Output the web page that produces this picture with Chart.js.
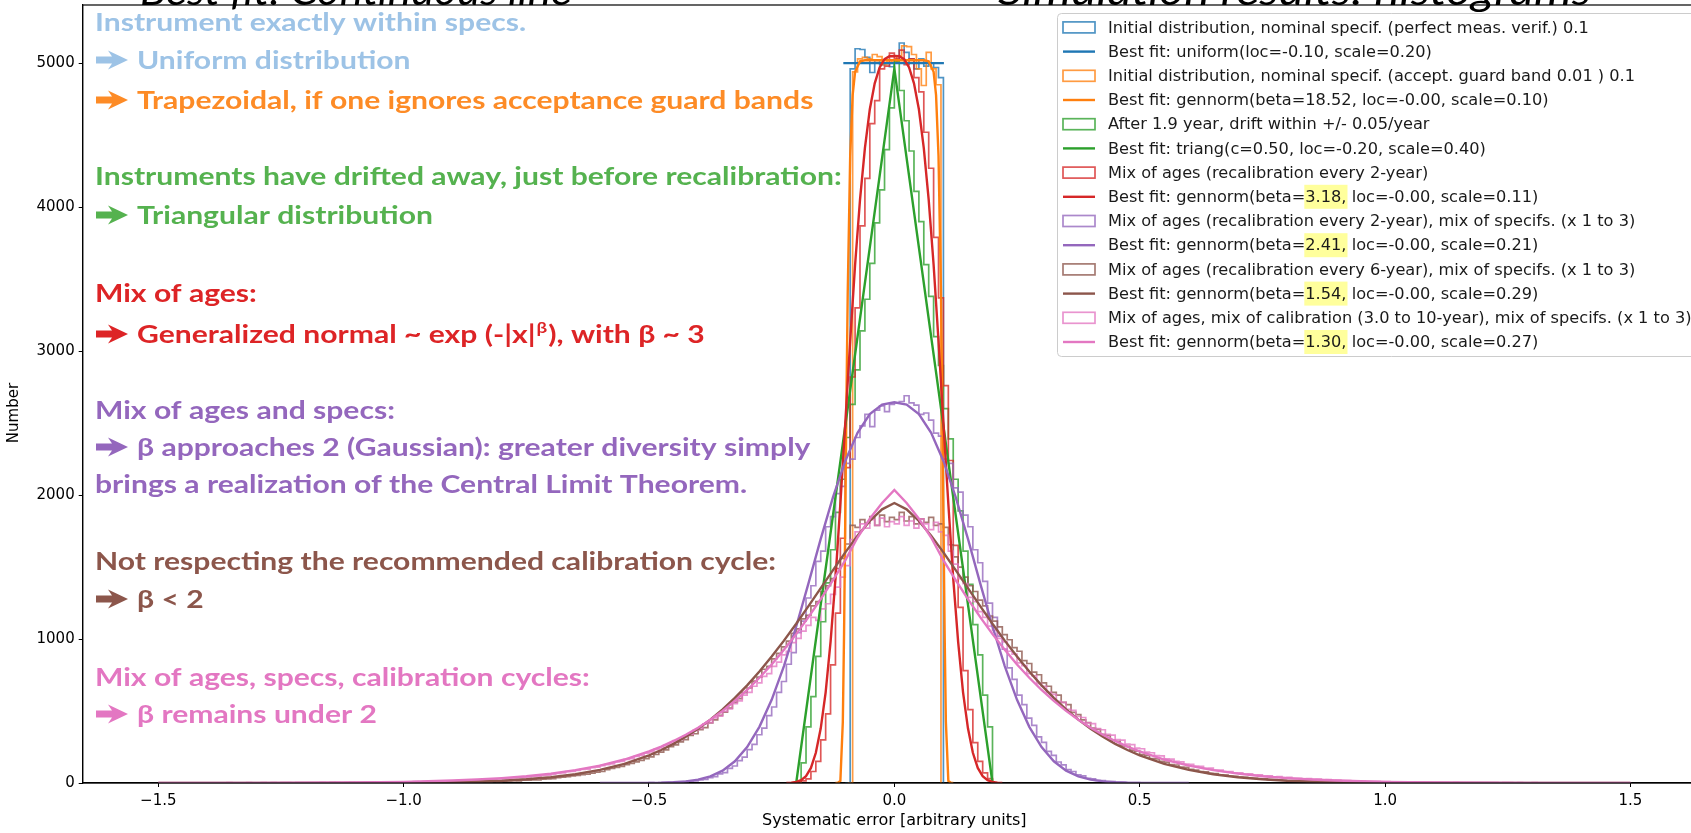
<!DOCTYPE html>
<html>
<head>
<meta charset="utf-8">
<script src="https://cdn.jsdelivr.net/npm/chart.js@4.4.1/dist/chart.umd.min.js"></script>
<style>
html, body { margin: 0; padding: 0; overflow: hidden; background: #fff; }
</style>
</head>
<body>
<canvas id="histChart" width="1720" height="833"></canvas>
<script>
// histogram counts, bin width 0.01, read left to right from the first bin edge
const binWidth = 0.01

const blueStart = -0.10
const blueHist = [4960, 5100, 5095, 5040, 4935, 5020, 4990, 5000, 4975, 5020,
    5140, 5075, 5030, 4960, 5030, 4980, 5000, 4970, 4900, 4840]

const orangeStart = -0.095
const orangeHist = [4940, 5030, 5040, 5030, 5060, 5045, 4990, 5020, 5000, 5050,
    5120, 5115, 5060, 4960, 4845, 5075, 4960, 4850, 4840]

const greenStart = -0.20
const greenHist = [140, 390, 600, 880, 1120, 1390, 1620, 1880, 2110, 2400,
    2630, 2870, 3140, 3360, 3610, 3890, 4120, 4400, 4690, 5010,
    4810, 4600, 4390, 4110, 3900, 3600, 3380, 3100, 2900, 2600,
    2390, 2110, 1890, 1610, 1380, 1100, 890, 610, 390, 130]

const redStart = -0.20
const redHist = [15, 28, 80, 150, 300, 480, 820, 1180, 1700, 2190,
    2820, 3300, 3870, 4200, 4580, 4740, 4960, 4980, 5070, 5030,
    5090, 4990, 5030, 4900, 4800, 4520, 4270, 3790, 3370, 2760,
    2240, 1650, 1220, 780, 510, 280, 150, 70, 30, 10]

const purpleStart = -0.55
const purpleHist = [0, 0, 1, 0, 2, 1, 3, 2, 4, 6,
    5, 9, 12, 14, 22, 25, 38, 44, 63, 72,
    101, 118, 156, 180, 232, 268, 335, 381, 468, 528,
    630, 705, 825, 905, 1045, 1125, 1285, 1370, 1540, 1610,
    1780, 1850, 2010, 2060, 2220, 2250, 2400, 2480, 2560, 2475,
    2590, 2620, 2580, 2630, 2640,
    2650, 2690, 2640, 2625, 2560, 2570, 2520, 2430, 2410, 2250,
    2220, 2050, 2020, 1860, 1780, 1620, 1530, 1400, 1250, 1150,
    1020, 930, 800, 720, 610, 545, 450, 400, 320, 282,
    220, 192, 146, 126, 93, 80, 57, 49, 33, 29,
    18, 16, 10, 9, 5, 5, 3, 2, 2, 1,
    1, 0, 1, 0, 0]

const brownStart = -1.50
const brownHist = [0, 0, 0, 0, 0, 0, 0, 1, 0, 0, 0, 0, 0, 1, 0, 0, 0, 0, 1, 0,
    0, 1, 0, 0, 1, 0, 1, 0, 0, 1, 0, 1, 1, 0, 2, 1, 0, 1, 2, 1,
    1, 2, 1, 3, 1, 2, 2, 1, 3, 2,
    3, 2, 4, 3, 2, 4, 5, 3, 4, 6,
    5, 7, 6, 8, 7, 9, 8, 11, 10, 13,
    14, 16, 15, 19, 20, 22, 21, 26, 28, 31,
    38, 40, 44, 50, 52, 58, 61, 68, 75, 80,
    92, 102, 108, 116, 128, 136, 147, 157, 170, 181,
    198, 214, 230, 252, 265, 285, 301, 330, 342, 370,
    385, 418, 438, 470, 492, 520, 560, 586, 628, 660,
    708, 735, 790, 810, 862, 900, 945, 985, 1040, 1070,
    1140, 1165, 1230, 1260, 1330, 1370, 1420, 1490, 1560, 1660,
    1790, 1775, 1830, 1805, 1850, 1790, 1860, 1815, 1845, 1830,
    1880, 1820, 1850, 1800, 1835, 1810, 1845, 1790, 1800, 1775,
    1655, 1570, 1500, 1430, 1370, 1330, 1270, 1230, 1160, 1125,
    1085, 1030, 995, 940, 915, 850, 830, 770, 752, 695,
    672, 630, 610, 560, 545, 490, 475, 438, 420, 382,
    372, 338, 330, 298, 290, 258, 255, 228, 222, 198,
    192, 170, 168, 150, 145, 128, 125, 110, 108, 95,
    90, 80, 78, 67, 66, 57, 55, 48, 46, 41,
    40, 34, 33, 28, 28, 24, 23, 20, 19, 16,
    16, 13, 14, 11, 11, 9, 10, 8, 8, 7,
    6, 6, 5, 4, 5, 3, 4, 3, 3, 2,
    2, 3, 1, 2, 2, 1, 1, 2, 1, 0, 1, 1, 0, 1, 1, 0, 0, 1, 0, 1,
    0, 0, 1, 0, 0, 0, 1, 0, 0, 0, 0, 1, 0, 0, 0, 0, 0, 0, 1, 0,
    0, 0, 0, 0, 0, 0, 0, 0, 0, 0]

const pinkStart = -1.50
const pinkHist = [0, 1, 0, 0, 1, 0, 1, 0, 1, 0, 1, 1, 0, 2, 1, 1, 0, 2, 1, 1,
    2, 1, 2, 1, 3, 2, 1, 3, 2, 2, 3, 2, 4, 3, 3, 4, 2, 4, 3, 5,
    4, 5, 4, 6, 5, 5, 7, 6, 7, 8,
    7, 9, 8, 10, 9, 11, 12, 11, 13, 14,
    16, 18, 17, 20, 21, 22, 25, 24, 28, 31,
    33, 35, 38, 37, 42, 45, 48, 52, 55, 62,
    66, 71, 79, 80, 88, 95, 97, 106, 110, 120,
    128, 133, 146, 150, 164, 170, 185, 192, 207, 216,
    234, 243, 262, 270, 294, 303, 326, 340, 365, 380,
    410, 420, 452, 465, 498, 515, 552, 570, 610, 630,
    672, 695, 740, 760, 810, 840, 890, 915, 975, 1005,
    1055, 1095, 1150, 1130, 1210, 1245, 1310, 1360, 1430, 1510,
    1690, 1745, 1800, 1770, 1830, 1790, 1840, 1780, 1815, 1800,
    1850, 1790, 1820, 1770, 1835, 1800, 1760, 1810, 1745, 1720,
    1610, 1520, 1420, 1385, 1290, 1260, 1190, 1150, 1090, 1060,
    1005, 980, 915, 895, 835, 815, 760, 745, 690, 672,
    630, 615, 568, 560, 512, 505, 462, 455, 418, 412,
    378, 370, 338, 333, 302, 298, 270, 266, 242, 238,
    215, 210, 190, 188, 168, 166, 150, 147, 132, 130,
    117, 116, 102, 103, 90, 90, 80, 79, 70, 70,
    62, 64, 55, 56, 48, 50, 43, 44, 37, 39,
    33, 33, 29, 30, 25, 27, 22, 23, 19, 20,
    17, 16, 15, 14, 13, 12, 11, 11, 9, 10,
    8, 8, 7, 6, 7, 5, 6, 5, 5, 4, 4, 5, 3, 4, 3, 3, 2, 3, 2, 3,
    2, 2, 1, 2, 2, 1, 2, 1, 1, 2, 1, 1, 0, 1, 1, 1, 0, 1, 0, 1,
    1, 0, 1, 0, 0, 1, 0, 0, 1, 0]

// fitted curves
const uniformFitX = [-0.104, 0.101]
const uniformFit = [5000, 5000]

const orangeFitX = [-0.12, -0.115, -0.11, -0.105, -0.1025, -0.1, -0.0975, -0.095, -0.09, -0.085, -0.08, -0.07, -0.06, 0,
    0.06, 0.07, 0.08, 0.085, 0.09, 0.095, 0.0975, 0.1, 0.1025, 0.105, 0.11, 0.115, 0.12]
const orangeFit = [0, 2, 15, 425, 1034, 1847, 2685, 3410, 4355, 4778, 4940, 5013, 5020, 5020,
    5020, 5013, 4940, 4778, 4355, 3410, 2685, 1847, 1034, 425, 15, 2, 0]

const triangFitX = [-0.2, 0, 0.2]
const triangFit = [0, 4960, 0]

const redFitX = [-0.22, -0.21, -0.2, -0.19, -0.18, -0.17, -0.16, -0.15, -0.14, -0.13, -0.12, -0.11, -0.1,
    -0.09, -0.08, -0.07, -0.06, -0.05, -0.04, -0.03, -0.02, -0.01, 0,
    0.01, 0.02, 0.03, 0.04, 0.05, 0.06, 0.07, 0.08, 0.09, 0.1, 0.11,
    0.12, 0.13, 0.14, 0.15, 0.16, 0.17, 0.18, 0.19, 0.2, 0.21, 0.22]
const redFit = [1, 2, 7, 20, 48, 105, 210, 380, 630, 980, 1420, 1940, 2500,
    3070, 3600, 4050, 4410, 4680, 4860, 4970, 5028, 5048, 5050,
    5048, 5028, 4970, 4860, 4680, 4410, 4050, 3600, 3070, 2500, 1940,
    1420, 980, 630, 380, 210, 105, 48, 20, 7, 2, 1]

const purpleFitX = [-0.6, -0.575, -0.55, -0.525, -0.5, -0.475, -0.45, -0.425, -0.4, -0.375, -0.35, -0.325,
    -0.3, -0.275, -0.25, -0.225, -0.2, -0.175, -0.15, -0.125, -0.1, -0.075, -0.05, -0.025, 0,
    0.025, 0.05, 0.075, 0.1, 0.125, 0.15, 0.175, 0.2, 0.225, 0.25, 0.275, 0.3,
    0.325, 0.35, 0.375, 0.4, 0.425, 0.45, 0.475, 0.5, 0.525, 0.55, 0.575, 0.6]
const purpleFit = [0, 0, 0, 0, 1, 2, 5, 11, 23, 46, 86, 151,
    249, 390, 578, 812, 1087, 1387, 1696, 1986, 2237, 2433, 2563, 2629, 2645,
    2629, 2563, 2433, 2237, 1986, 1696, 1387, 1087, 812, 578, 390, 249,
    151, 86, 46, 23, 11, 5, 2, 1, 0, 0, 0, 0]

const wideFitX = [-1.5, -1.4, -1.3, -1.2, -1.1, -1.0, -0.95, -0.9, -0.85, -0.8, -0.75, -0.7, -0.65, -0.6,
    -0.55, -0.5, -0.475, -0.45, -0.425, -0.4, -0.375, -0.35, -0.325, -0.3, -0.275, -0.25, -0.225,
    -0.2, -0.175, -0.15, -0.125, -0.1, -0.075, -0.05, -0.025, 0,
    0.025, 0.05, 0.075, 0.1, 0.125, 0.15, 0.175, 0.2, 0.225, 0.25, 0.275, 0.3, 0.325, 0.35,
    0.375, 0.4, 0.425, 0.45, 0.475, 0.5, 0.55, 0.6, 0.65, 0.7, 0.75, 0.8, 0.85, 0.9, 0.95,
    1.0, 1.1, 1.2, 1.3, 1.4, 1.5]
const brownFit = [0, 0, 0, 0, 1, 2, 4, 6, 10, 16, 26, 40, 61, 91,
    133, 192, 229, 272, 321, 377, 440, 511, 591, 678, 774, 878, 989,
    1106, 1229, 1354, 1479, 1602, 1717, 1820, 1901, 1945,
    1901, 1820, 1717, 1602, 1479, 1354, 1229, 1106, 989, 878, 774, 678, 591, 511,
    440, 377, 321, 272, 229, 192, 133, 91, 61, 40, 26, 16, 10, 6, 4,
    2, 1, 0, 0, 0, 0]
const pinkFit = [0.2, 0.5, 1, 2, 4, 8, 12, 17, 24, 34, 47, 65, 89, 121,
    163, 219, 253, 292, 335, 384, 439, 501, 570, 646, 731, 823, 925,
    1034, 1152, 1277, 1409, 1546, 1705, 1835, 1945, 2035,
    1945, 1835, 1705, 1546, 1409, 1277, 1152, 1034, 925, 823, 731, 646, 570, 501,
    439, 384, 335, 292, 253, 219, 163, 121, 89, 65, 47, 34, 24, 17, 12,
    8, 4, 2, 1, 0.5, 0.2]

const xTicks = [-1.5, -1.0, -0.5, 0.0, 0.5, 1.0, 1.5]
const yTicks = [0, 1000, 2000, 3000, 4000, 5000]

const histLabels = [
    "Initial distribution, nominal specif. (perfect meas. verif.) 0.1",
    "Initial distribution, nominal specif. (accept. guard band 0.01 ) 0.1",
    "After 1.9 year, drift within +/- 0.05/year",
    "Mix of ages (recalibration every 2-year)",
    "Mix of ages (recalibration every 2-year), mix of specifs. (x 1 to 3)",
    "Mix of ages (recalibration every 6-year), mix of specifs. (x 1 to 3)",
    "Mix of ages, mix of calibration (3.0 to 10-year), mix of specifs. (x 1 to 3)",
]
const fitLabels = [
    "Best fit: uniform(loc=-0.10, scale=0.20)",
    "Best fit: gennorm(beta=18.52, loc=-0.00, scale=0.10)",
    "Best fit: triang(c=0.50, loc=-0.20, scale=0.40)",
    "Best fit: gennorm(beta=3.18, loc=-0.00, scale=0.11)",
    "Best fit: gennorm(beta=2.41, loc=-0.00, scale=0.21)",
    "Best fit: gennorm(beta=1.54, loc=-0.00, scale=0.29)",
    "Best fit: gennorm(beta=1.30, loc=-0.00, scale=0.27)",
]
const fitHighlights = [null, null, null, "3.18,", "2.41,", "1.54,", "1.30,"]

const colors = ["#1f77b4", "#ff7f0e", "#2ca02c", "#d62728", "#9467bd", "#8c564b", "#e377c2"]

const hists = [
    [blueStart, blueHist], [orangeStart, orangeHist], [greenStart, greenHist], [redStart, redHist],
    [purpleStart, purpleHist], [brownStart, brownHist], [pinkStart, pinkHist],
]
const fits = [
    [uniformFitX, uniformFit], [orangeFitX, orangeFit], [triangFitX, triangFit], [redFitX, redFit],
    [purpleFitX, purpleFit], [wideFitX, brownFit], [wideFitX, pinkFit],
]

// slide text laid over the plot
const notes = [
    {parts: ["Instrument exactly within specs."], color: "#9dc3e6", y: 31},
    {arrow: true, parts: ["Uniform distribution"], color: "#9dc3e6", y: 69},
    {arrow: true, parts: ["Trapezoidal, if one ignores acceptance guard bands"], color: "#fd8b26", y: 109},
    {parts: ["Instruments have drifted away, just before recalibration:"], color: "#55b24f", y: 185},
    {arrow: true, parts: ["Triangular distribution"], color: "#55b24f", y: 224},
    {parts: ["Mix of ages:"], color: "#dd2426", y: 302},
    {arrow: true, parts: ["Generalized normal ~ exp (-|x|", "^β", "), with β ~ 3"], color: "#dd2426", y: 343},
    {parts: ["Mix of ages and specs:"], color: "#9467bd", y: 419},
    {arrow: true, parts: ["β approaches 2 (Gaussian): greater diversity simply"], color: "#9467bd", y: 456},
    {parts: ["brings a realization of the Central Limit Theorem."], color: "#9467bd", y: 493},
    {parts: ["Not respecting the recommended calibration cycle:"], color: "#8c564b", y: 570},
    {arrow: true, parts: ["β < 2"], color: "#8c564b", y: 608},
    {parts: ["Mix of ages, specs, calibration cycles:"], color: "#e377c2", y: 686},
    {arrow: true, parts: ["β remains under 2"], color: "#e377c2", y: 723},
]
const headings = [
    {text: "Best fit: Continuous line", x: 140, w: 432},
    {text: "Simulation results: histograms", x: 998, w: 593},
]

function histPoints(start, counts) {
    let pts = [{x: start, y: 0}]
    counts.forEach((c, i) => pts.push({x: +(start + (i + 1) * binWidth).toFixed(3), y: c}))
    pts.push({x: +(start + counts.length * binWidth).toFixed(3), y: 0})
    return pts
}

let datasets = []
hists.forEach(([start, counts], k) => {
    datasets.push({
        label: histLabels[k],
        data: histPoints(start, counts),
        borderColor: colors[k] + "c8",
        borderWidth: 1.7,
        stepped: "before",
        order: 14 - k,
    })
})
fits.forEach(([xs, ys], k) => {
    datasets.push({
        label: fitLabels[k],
        data: xs.map((x, i) => ({x: x, y: ys[i]})),
        borderColor: colors[k],
        borderWidth: 2.4,
        order: 7 - k,
    })
})

const tickFont = {family: "DejaVu Sans", size: 15}

function drawArrow(ctx, x0, cy) {
    ctx.beginPath()
    ctx.moveTo(x0, cy - 3.6)
    ctx.lineTo(x0 + 16, cy - 3.6)
    ctx.lineTo(x0 + 12, cy - 9.5)
    ctx.lineTo(x0 + 32, cy)
    ctx.lineTo(x0 + 12, cy + 9.5)
    ctx.lineTo(x0 + 16, cy + 3.6)
    ctx.lineTo(x0, cy + 3.6)
    ctx.closePath()
    ctx.fill()
}

function noPad(s) {
    s.paddingTop = 0
    s.paddingBottom = 0
    s.paddingLeft = 0
    s.paddingRight = 0
}

const overlay = {
    id: "overlay",
    afterDraw(chart) {
        const ctx = chart.ctx
        const a = chart.chartArea
        ctx.save()
        ctx.strokeStyle = "#000"
        ctx.lineWidth = 1.2
        ctx.strokeRect(a.left, a.top, a.right - a.left, a.bottom - a.top)

        // y axis title, sits a little below the middle of the axis
        ctx.save()
        ctx.translate(14, 413)
        ctx.rotate(-Math.PI / 2)
        ctx.font = '15px "DejaVu Sans"'
        ctx.fillStyle = "#000"
        ctx.textAlign = "center"
        ctx.textBaseline = "middle"
        ctx.fillText("Number", 0, 0)
        ctx.restore()

        // legend
        const lx = 1057.5, ly = 13.5, row0 = 27.4, rowH = 24.2
        ctx.beginPath()
        ctx.roundRect(lx, ly, 700, 343, 4)
        ctx.fillStyle = "rgba(255,255,255,0.8)"
        ctx.fill()
        ctx.strokeStyle = "#cccccc"
        ctx.lineWidth = 1
        ctx.stroke()
        ctx.font = '16.2px "DejaVu Sans"'
        ctx.textBaseline = "middle"
        for (let k = 0; k < 7; k++) {
            for (let j = 0; j < 2; j++) {
                const cy = row0 + (2 * k + j) * rowH
                const label = j === 0 ? histLabels[k] : fitLabels[k]
                if (j === 0) {
                    ctx.strokeStyle = colors[k] + "c8"
                    ctx.lineWidth = 1.7
                    ctx.strokeRect(1063, cy - 5.5, 32, 11)
                } else {
                    ctx.strokeStyle = colors[k]
                    ctx.lineWidth = 2.4
                    ctx.beginPath()
                    ctx.moveTo(1063, cy)
                    ctx.lineTo(1095, cy)
                    ctx.stroke()
                }
                const tx = 1108
                const hl = j === 1 ? fitHighlights[k] : null
                if (hl) {
                    const pre = label.slice(0, label.indexOf(hl))
                    const x0 = tx + ctx.measureText(pre).width
                    ctx.fillStyle = "#ffff9c"
                    ctx.fillRect(x0 - 1, cy - 12, ctx.measureText(hl).width + 2, 24)
                }
                ctx.fillStyle = "#1a1a1a"
                ctx.fillText(label, tx, cy + 1)
            }
        }

        // slide notes (the slide font is wider than Lato, stretch it)
        const sx = 1.18
        ctx.textBaseline = "alphabetic"
        notes.forEach(n => {
            ctx.fillStyle = n.color
            let x = 95
            if (n.arrow) {
                drawArrow(ctx, 96, n.y - 9)
                x = 137
            }
            n.parts.forEach(p => {
                const sup = p.startsWith("^")
                const t = sup ? p.slice(1) : p
                ctx.font = sup ? "bold 16px Lato" : "bold 25.5px Lato"
                ctx.save()
                ctx.translate(sup ? x + 1 : x, sup ? n.y - 10 : n.y)
                ctx.scale(sx, 1)
                ctx.fillText(t, 0, 0)
                ctx.restore()
                x += ctx.measureText(t).width * sx + (sup ? 2 : 0)
            })
        })

        ctx.fillStyle = "#000"
        ctx.font = "italic 40px Lato"
        headings.forEach(h => {
            const w = ctx.measureText(h.text).width
            ctx.save()
            ctx.translate(h.x, 4.5)
            ctx.scale(h.w / w, 1)
            ctx.fillText(h.text, 0, 0)
            ctx.restore()
        })
        ctx.restore()
    }
}

let ctx = document.getElementById("histChart").getContext("2d")
new Chart(ctx, {
    type: "line",
    data: {datasets: datasets},
    options: {
        responsive: false,
        animation: false,
        events: [],
        layout: {padding: {left: 0, top: 5, right: 14, bottom: 0}},
        elements: {point: {radius: 0}, line: {tension: 0}},
        plugins: {legend: {display: false}, tooltip: {enabled: false}},
        scales: {
            x: {
                type: "linear",
                min: -1.654,
                max: 1.654,
                afterFit: s => { s.height = 50; noPad(s) },
                afterBuildTicks: s => { s.ticks = xTicks.map(v => ({value: v})) },
                ticks: {
                    callback: v => v.toFixed(1).replace("-", "\u2212"),
                    font: tickFont, color: "#000", padding: 5, maxRotation: 0, autoSkip: false,
                },
                grid: {drawOnChartArea: false, tickLength: 4, color: "#000"},
                border: {color: "#000", width: 1.2},
                title: {display: true, text: "Systematic error [arbitrary units]", font: {family: "DejaVu Sans", size: 16}, color: "#000", padding: {top: 0, bottom: 3}},
            },
            y: {
                min: 0,
                max: 5404,
                afterFit: s => { s.width = 82.7; noPad(s) },
                afterBuildTicks: s => { s.ticks = yTicks.map(v => ({value: v})) },
                ticks: {font: tickFont, color: "#000", padding: 4, callback: v => String(v)},
                grid: {drawOnChartArea: false, tickLength: 4, color: "#000"},
                border: {color: "#000", width: 1.2},
            },
        },
    },
    plugins: [overlay],
});
</script>
</body>
</html>
